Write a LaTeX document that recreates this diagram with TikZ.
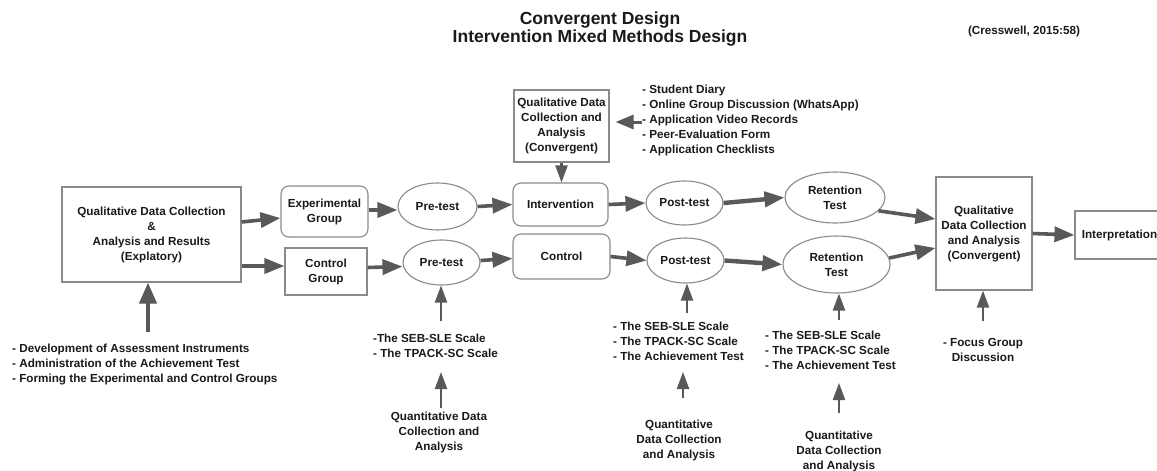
\documentclass[tikz,border=0pt]{standalone}
\usepackage{fontspec}
\setmainfont{Liberation Sans}
\usetikzlibrary{arrows.meta,shapes.geometric}
\definecolor{arrowc}{HTML}{595959}
\definecolor{linec}{HTML}{8A8A8A}
\definecolor{txt}{HTML}{1A1A1A}
\begin{document}
\begin{tikzpicture}[x=1pt,y=-1pt,
  every node/.style={font=\bfseries\fontsize{11.7}{15}\selectfont, text=txt, inner sep=0pt, align=center},
  box/.style={draw=linec, line width=1.1pt, fill=white},
  rbox/.style={box, rounded corners=8pt},
  oval/.style={box, ellipse},
  arr/.style={draw=arrowc, line width=3.6pt, -{Triangle[length=20pt,width=15pt]}},
  varr/.style={draw=arrowc, line width=2.2pt, -{Triangle[length=17pt,width=12pt]}},
  lst/.style={align=left, anchor=west}
]
\useasboundingbox (0,0) rectangle (1157,471);
\fill[white] (0,0) rectangle (1157,471);

% titles
\node[font=\bfseries\fontsize{17.5}{18}\selectfont] (title) at (600,29) {Convergent Design\\Intervention Mixed Methods Design};
\node (cite) at (1024,31) {(Cresswell, 2015:58)};

% main nodes
\node[box, minimum width=179pt, minimum height=95pt] (qualL) at (151.5,234.5) {Qualitative Data Collection\\\&\\Analysis and Results\\(Explatory)};
\node[rbox, minimum width=87pt, minimum height=51pt] (exp) at (324.5,211.5) {Experimental\\Group};
\node[box, minimum width=82pt, minimum height=47pt] (ctrlg) at (326,271.5) {Control\\Group};
\node[oval, minimum width=79pt, minimum height=47pt] (pre1) at (437.5,206.5) {Pre-test};
\node[oval, minimum width=77pt, minimum height=45pt] (pre2) at (441.5,262.5) {Pre-test};
\node[rbox, minimum width=95pt, minimum height=43pt] (interv) at (560.5,204.5) {Intervention};
\node[rbox, minimum width=97pt, minimum height=45pt] (ctrl) at (561.5,256.5) {Control};
\node[oval, minimum width=77pt, minimum height=44pt] (post1) at (684.5,203) {Post-test};
\node[oval, minimum width=77pt, minimum height=45pt] (post2) at (685.5,260.5) {Post-test};
\node[oval, minimum width=100pt, minimum height=51pt] (ret1) at (835,197.5) {Retention\\Test};
\node[oval, minimum width=107pt, minimum height=57pt] (ret2) at (836.5,264.5) {Retention\\Test};
\node[box, minimum width=96pt, minimum height=113pt] (qualR) at (984,233.5) {Qualitative\\Data Collection\\and Analysis\\(Convergent)};
\node[box, minimum width=89pt, minimum height=48pt] (interp) at (1119.5,235) {Interpretation};
\node[box, minimum width=95pt, minimum height=72pt] (qualT) at (561.5,126) {Qualitative Data\\Collection and\\Analysis\\(Convergent)};

% text lists
\node[lst] (toplist) at (642,120) {- Student Diary\\- Online Group Discussion (WhatsApp)\\- Application Video Records\\- Peer-Evaluation Form\\- Application Checklists};
\node[lst] (leftlist) at (12,364) {- Development of Assessment Instruments\\- Administration of the Achievement Test\\- Forming the Experimental and Control Groups};
\node[lst] (prelist) at (373,345.5) {-The SEB-SLE Scale\\- The TPACK-SC Scale};
\node[lst] (postlist) at (613,341) {- The SEB-SLE Scale\\- The TPACK-SC Scale\\- The Achievement Test};
\node[lst] (retlist) at (765,350) {- The SEB-SLE Scale\\- The TPACK-SC Scale\\- The Achievement Test};
\node (focus) at (983,350) {- Focus Group\\Discussion};
\node (quant1) at (439,432) {Quantitative Data\\Collection and\\Analysis};
\node (quant2) at (679,440) {Quantitative\\Data Collection\\and Analysis};
\node (quant3) at (839,451) {Quantitative\\Data Collection\\and Analysis};

% horizontal connectors
\draw[arr] ([yshift=12.5pt]qualL.east) -- ([yshift=-6.5pt]exp.west);
\draw[arr] ([yshift=-31.5pt]qualL.east) -- ([yshift=5.5pt]ctrlg.west);
\draw[arr] ([yshift=1.5pt]exp.east) -- ([yshift=-3.5pt]pre1.west);
\draw[arr] (pre1.east) -- (interv.west);
\draw[arr] (interv.east) -- (post1.west);
\draw[arr, line width=4.4pt] (post1.east) -- (ret1.west);
\draw[arr] (ret1.-17) -- ([yshift=14.5pt]qualR.west);
\draw[arr] ([yshift=4pt]ctrlg.east) -- ([yshift=-4pt]pre2.west);
\draw[arr] ([yshift=2pt]pre2.east) -- ([yshift=-2pt]ctrl.west);
\draw[arr] (ctrl.east) -- (post2.west);
\draw[arr, line width=4.4pt] (post2.east) -- (ret2.west);
\draw[arr] (ret2.7) -- ([yshift=-14.5pt]qualR.west);
\draw[arr] (qualR.east) -- (interp.west);

% top connectors
\draw[varr] (qualT.south) -- (qualT.south |- interv.north);
\coordinate (tlt) at (621,122);
\draw[arr, line width=3pt, -{Triangle[length=18pt,width=14pt]}] (toplist.west |- tlt) -- ([xshift=6pt]qualT.east |- tlt);

% vertical connectors from below
\coordinate (cL) at (148,332);
\draw[arr, line width=4.2pt, -{Triangle[length=21pt,width=17pt]}] (cL) -- (cL |- qualL.south);
\coordinate (cP2) at (441,321);
\draw[varr] (cP2) -- (cP2 |- pre2.south);
\coordinate (cQ1) at (441,408);
\coordinate (cQ1t) at (441,372);
\draw[varr] (cQ1) -- (cQ1t);
\coordinate (cPo2) at (687,313);
\draw[varr] (cPo2) -- (cPo2 |- post2.south);
\coordinate (cQ2) at (683,398);
\coordinate (cQ2t) at (683,372);
\draw[varr] (cQ2) -- (cQ2t);
\coordinate (cR2) at (839,320);
\draw[varr] (cR2) -- (cR2 |- ret2.south);
\coordinate (cQ3) at (839,413);
\coordinate (cQ3t) at (839,383);
\draw[varr] (cQ3) -- (cQ3t);
\coordinate (cF) at (983,321);
\draw[varr] (cF) -- (cF |- qualR.south);
\end{tikzpicture}
\end{document}
